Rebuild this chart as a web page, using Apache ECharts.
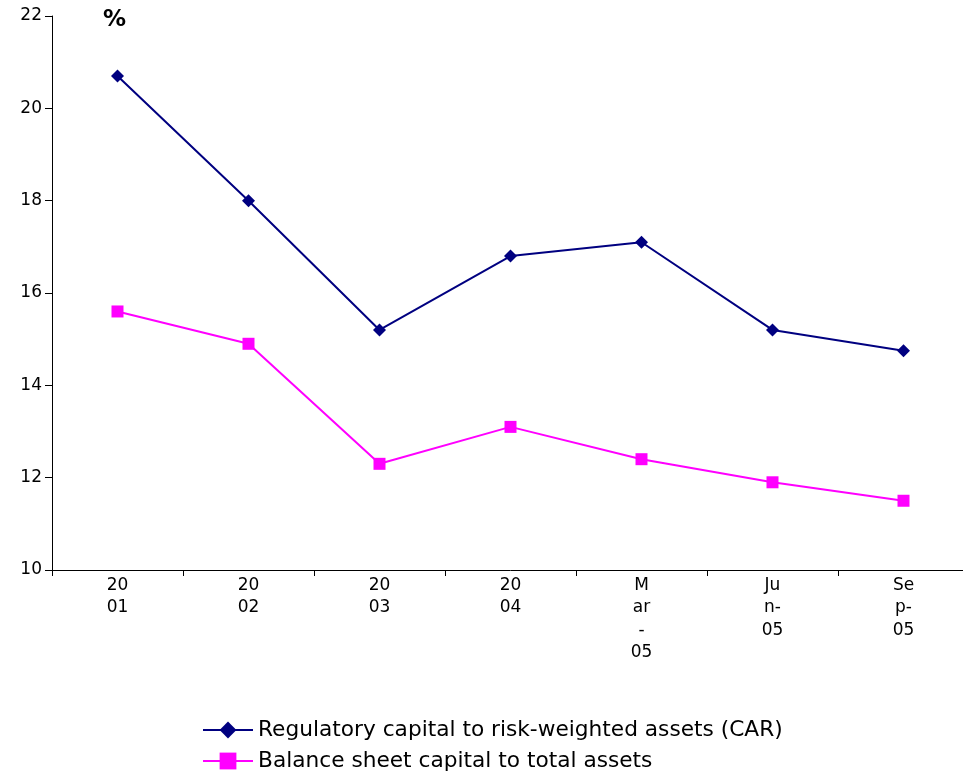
<!DOCTYPE html>
<html>
<head>
<meta charset="utf-8">
<script src="https://cdn.jsdelivr.net/npm/echarts@6/dist/echarts.min.js"></script>
<style>html,body{margin:0;padding:0;background:#fff;overflow:hidden;width:963px;height:774px}#c{width:970px;height:774px}</style>
</head>
<body>
<div id="c"></div>
<script>
const categories = ['20\n01', '20\n02', '20\n03', '20\n04', 'M\nar\n-\n05', 'Ju\nn-\n05', 'Se\np-\n05'];
const carValues = [20.7, 18.0, 15.2, 16.8, 17.1, 15.2, 14.75];
const balanceValues = [15.6, 14.9, 12.3, 13.1, 12.4, 11.9, 11.5];
const yTicks = { min: 10, max: 22, interval: 2 };
const seriesNames = ['Regulatory capital to risk-weighted assets (CAR)', 'Balance sheet capital to total assets'];

const font = 'DejaVu Sans, Verdana, sans-serif';
const chart = echarts.init(document.getElementById('c'));
chart.setOption({
  animation: false,
  backgroundColor: '#fff',
  textStyle: { fontFamily: font },
  grid: { left: 52, top: 16, right: 1, bottom: 204, containLabel: false },
  graphic: [{
    type: 'text', left: 103, top: 9,
    style: { text: '%', font: 'bold 23px ' + font, fill: '#000' }
  }],
  legend: {
    orient: 'vertical', left: 202, top: 719, itemGap: 9, padding: 0,
    itemWidth: 50, itemHeight: 21,
    lineStyle: { width: 2 },
    textStyle: { fontSize: 21.7, lineHeight: 21, color: '#000', fontFamily: font },
    data: seriesNames
  },
  xAxis: {
    type: 'category', data: categories, boundaryGap: true,
    axisLine: { lineStyle: { color: '#000', width: 1 } },
    axisTick: { show: true, length: 6, alignWithLabel: false, lineStyle: { color: '#000' } },
    axisLabel: { interval: 0, fontSize: 17, color: '#000', lineHeight: 22.5, margin: 4, fontFamily: font }
  },
  yAxis: {
    type: 'value', min: yTicks.min, max: yTicks.max, interval: yTicks.interval,
    splitLine: { show: false },
    axisLine: { show: true, lineStyle: { color: '#000', width: 1 } },
    axisTick: { show: true, length: 7, lineStyle: { color: '#000' } },
    axisLabel: { fontSize: 17, color: '#000', margin: 10, fontFamily: font }
  },
  series: [{
    name: seriesNames[0], type: 'line', data: carValues,
    symbol: 'diamond', symbolSize: 13,
    lineStyle: { color: '#000080', width: 2 },
    itemStyle: { color: '#000080' }
  }, {
    name: seriesNames[1], type: 'line', data: balanceValues,
    symbol: 'rect', symbolSize: 12,
    lineStyle: { color: '#FF00FF', width: 2 },
    itemStyle: { color: '#FF00FF' }
  }]
});
</script>
</body>
</html>
